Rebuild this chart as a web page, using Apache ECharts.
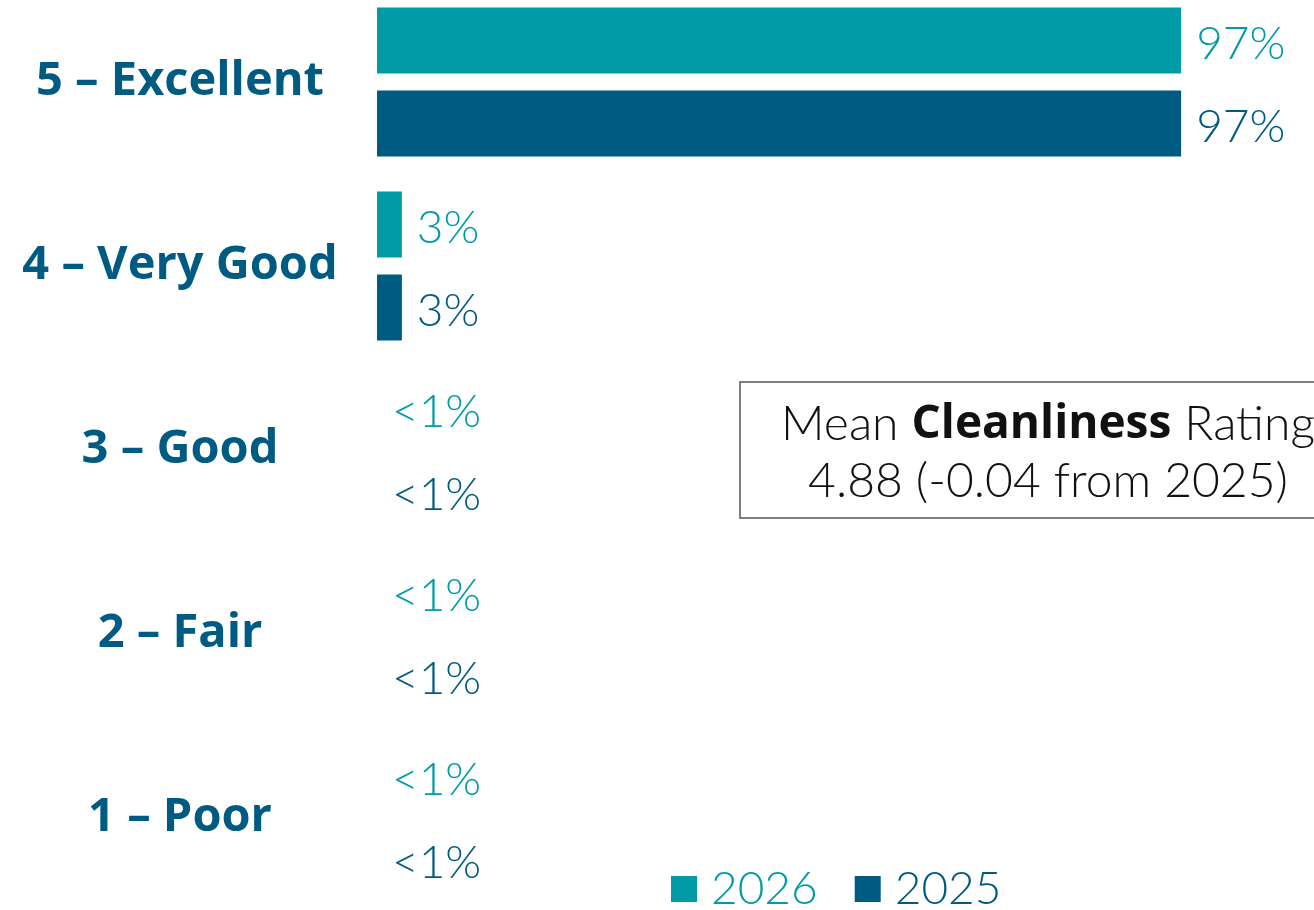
<!DOCTYPE html>
<html>
<head>
<meta charset="utf-8">
<title>Cleanliness Rating</title>
<script src="https://cdn.jsdelivr.net/npm/echarts@6/dist/echarts.min.js"></script>
<style>
  html, body { margin: 0; padding: 0; background: #ffffff; }
  #chart { width: 1314px; height: 910px; }
</style>
</head>
<body>
<div id="chart"></div>
<script>
// Rating categories, top to bottom
const categories = ['5 – Excellent', '4 – Very Good', '3 – Good', '2 – Fair', '1 – Poor'];
// Share of responses (%) per rating; lower ratings round to under 1%
const values2026 = [97, 3, 0, 0, 0];
const values2025 = [97, 3, 0, 0, 0];
const seriesNames = ['2026', '2025'];

const TEAL = '#009ba7';
const NAVY = '#005b82';
const LIGHT_FONT = 'Lato, "Open Sans", sans-serif';
const BOLD_FONT = '"Open Sans", Lato, sans-serif';

function pctLabel(p) {
  return p.value < 1 ? '<1%' : Math.round(p.value) + '%';
}

function barSeries(name, data, color) {
  return {
    name: name,
    type: 'bar',
    data: data,
    barWidth: 66,
    barGap: '26%',
    itemStyle: { color: color },
    label: {
      show: true,
      position: 'right',
      distance: 15,
      offset: [0, 4],
      formatter: pctLabel,
      color: color,
      fontFamily: LIGHT_FONT,
      fontWeight: 300,
      fontSize: 46
    }
  };
}

const chart = echarts.init(document.getElementById('chart'));
chart.setOption({
  animation: false,
  grid: {
    left: 377, width: 829, top: -10, height: 920,
    containLabel: false,
    outerBoundsMode: 'none'
  },
  xAxis: { type: 'value', min: 0, max: 100, show: false },
  yAxis: {
    type: 'category',
    data: categories,
    inverse: true,
    axisLine: { show: false },
    axisTick: { show: false },
    splitLine: { show: false },
    axisLabel: {
      align: 'center',
      margin: 197,
      padding: [6, 0, 0, 0],
      color: NAVY,
      fontFamily: BOLD_FONT,
      fontWeight: 'bold',
      fontSize: 47
    }
  },
  legend: {
    data: [
      { name: '2026', textStyle: { color: TEAL } },
      { name: '2025', textStyle: { color: NAVY } }
    ],
    left: 666,
    top: 861,
    icon: 'rect',
    itemWidth: 26,
    itemHeight: 26,
    itemGap: 37,
    textStyle: {
      fontFamily: LIGHT_FONT,
      fontWeight: 300,
      fontSize: 46,
      padding: [0, 0, 0, 9]
    }
  },
  series: [
    barSeries(seriesNames[0], values2026, TEAL),
    barSeries(seriesNames[1], values2025, NAVY)
  ],
  graphic: [
    {
      type: 'rect',
      shape: { x: 740, y: 382, width: 616, height: 136 },
      style: { fill: '#ffffff', stroke: '#555555', lineWidth: 1.5 }
    },
    {
      type: 'text',
      x: 1048,
      y: 453,
      style: {
        text: 'Mean {b|Cleanliness} Rating\n4.88 (-0.04 from 2025)',
        align: 'center',
        verticalAlign: 'middle',
        fill: '#111111',
        font: '300 48px ' + LIGHT_FONT,
        lineHeight: 57,
        rich: {
          b: { fontWeight: 'bold', fontSize: 46, fontFamily: BOLD_FONT, fill: '#111111', lineHeight: 57 }
        }
      }
    }
  ]
});
</script>
</body>
</html>
